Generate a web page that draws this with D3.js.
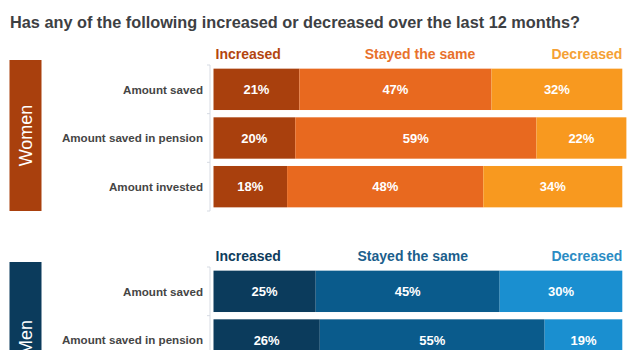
<!doctype html>
<html>
<head>
<meta charset="utf-8">
<style>
    body { margin: 0; background: #fff; font-family: 'Liberation Sans', Arial, sans-serif; }
    svg { display: block; }
    text.title { font-size: 16.3px; font-weight: bold; fill: #3d4043; }
    text.head { font-size: 14px; font-weight: bold; }
    text.row { font-size: 11.6px; font-weight: bold; fill: #454545; }
    text.value { font-size: 13px; font-weight: bold; fill: #fff; }
    text.group { font-size: 18px; fill: #fff; }
    .axis path, .axis line { stroke: #d6dbe3; }
</style>
<script src="https://d3js.org/d3.v7.min.js"></script>
</head>
<body>
<svg width="640" height="350"></svg>
<script>
const title = 'Has any of the following increased or decreased over the last 12 months?';
const categories = ['Amount saved', 'Amount saved in pension', 'Amount invested'];
const answers = ['Increased', 'Stayed the same', 'Decreased'];

const womenIncreased = [21, 20, 18];
const womenSame = [47, 59, 48];
const womenDecreased = [32, 22, 34];

const menIncreased = [25, 26, 24];
const menSame = [45, 55, 46];
const menDecreased = [30, 19, 30];

const svg = d3.select('svg');

const x = d3.scaleLinear().domain([0, 100]).range([213.5, 622.3]);

svg.append('text')
    .attr('class', 'title')
    .attr('x', 10)
    .attr('y', 27.5)
    .text(title);

function drawGroup(name, top, inc, same, dec, colors, headColors, sameHeadPct) {
    const y = d3.scaleBand()
        .domain(categories)
        .range([top, top + 146])
        .paddingInner(0.15)
        .paddingOuter(0.075);

    const g = svg.append('g');

    // group label box
    g.append('rect')
        .attr('x', 9.5).attr('y', top - 5)
        .attr('width', 32).attr('height', 151)
        .attr('fill', colors[0]);
    g.append('text')
        .attr('class', 'group')
        .attr('transform', `translate(32,${top - 5 + 75.5}) rotate(-90)`)
        .attr('text-anchor', 'middle')
        .text(name);

    // headers
    const hy = top - 6.5;
    g.append('text').attr('class', 'head').attr('x', x(0) + 2).attr('y', hy)
        .attr('fill', headColors[0]).text(answers[0]);
    g.append('text').attr('class', 'head').attr('x', x(sameHeadPct)).attr('y', hy)
        .attr('text-anchor', 'middle').attr('fill', headColors[1]).text(answers[1]);
    g.append('text').attr('class', 'head').attr('x', x(100)).attr('y', hy)
        .attr('text-anchor', 'end').attr('fill', headColors[2]).text(answers[2]);

    // category axis
    g.append('g')
        .attr('class', 'axis')
        .attr('transform', `translate(${x(0) - 3.5},0)`)
        .call(d3.axisLeft(y).tickSize(0).tickFormat(''))
        .call(a => a.select('.domain').attr('d', `M-3,${top}H0V${top + 146}H-3`));
    [0, 1].forEach(i => {
        const by = y(categories[i]) + y.bandwidth() + y.step() * y.paddingInner() / 2;
        g.append('line')
            .attr('x1', x(0) - 6.5).attr('x2', x(0) - 3.5).attr('y1', by).attr('y2', by)
            .attr('stroke', '#d6dbe3');
    });

    const rows = categories.map((c, i) => ({ c, vals: [inc[i], same[i], dec[i]] }));
    rows.forEach(r => {
        let acc = 0;
        r.vals.forEach((v, k) => {
            const x0 = acc;
            acc += v;
            g.append('rect')
                .attr('x', x(x0))
                .attr('y', y(r.c))
                .attr('width', x(acc) - x(x0))
                .attr('height', y.bandwidth())
                .attr('fill', colors[k]);
            g.append('text')
                .attr('class', 'value')
                .attr('x', (x(x0) + x(acc)) / 2)
                .attr('y', y(r.c) + y.bandwidth() / 2)
                .attr('dy', '0.36em')
                .attr('text-anchor', 'middle')
                .text(v + '%');
        });
        g.append('text')
            .attr('class', 'row')
            .attr('x', 203)
            .attr('y', y(r.c) + y.bandwidth() / 2)
            .attr('dy', '0.36em')
            .attr('text-anchor', 'end')
            .text(r.c);
    });
}

drawGroup('Women', 65, womenIncreased, womenSame, womenDecreased,
    ['#a9400d', '#e8691f', '#f8991f'], ['#b3450f', '#e8712b', '#f5a135'], 50.5);
drawGroup('Men', 267, menIncreased, menSame, menDecreased,
    ['#0b3b5c', '#0a5b8c', '#1a8fd0'], ['#0e3c5d', '#1b5e8c', '#2b8cc4'], 48.75);
</script>
</body>
</html>
